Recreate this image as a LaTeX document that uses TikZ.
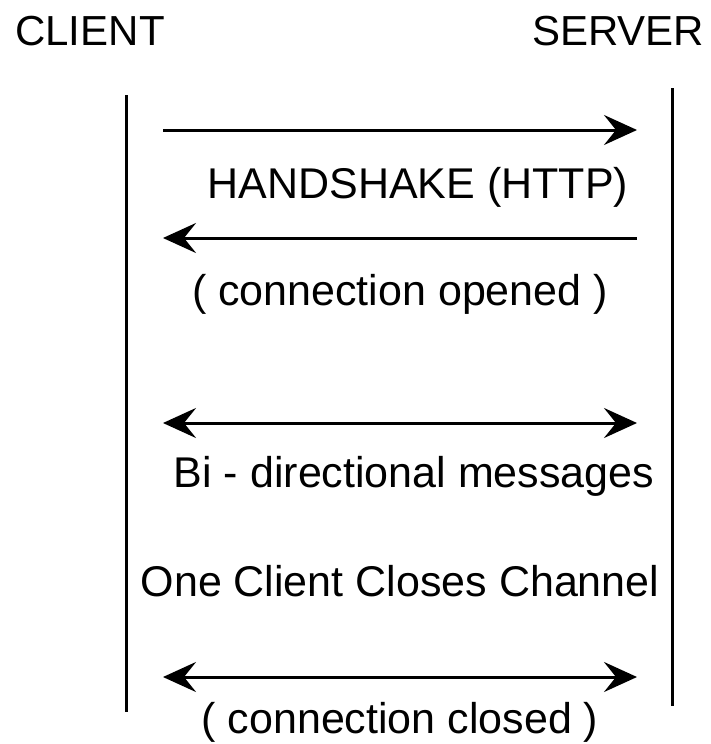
\documentclass[tikz,border=0pt]{standalone}
\usepackage{fontspec}
\setmainfont{Liberation Sans}
\usetikzlibrary{arrows.meta}
\begin{document}
\begin{tikzpicture}[x=1pt,y=-1pt,
  tip/.tip={Stealth[length=33pt,width=30pt,inset=12pt]},
  lifeline/.style={line width=3pt},
  msg/.style={line width=3pt,arrows={-tip}},
  bimsg/.style={line width=3pt,arrows={tip-tip}},
  lbl/.style={anchor=base,inner sep=0pt,font=\fontsize{43}{50}\selectfont},
  head/.style={anchor=base,inner sep=0pt,font=\fontsize{42}{50}\selectfont}]
\useasboundingbox (0,0) rectangle (710,744);
% participants
\node[head] (client) at (90,45) {CLIENT};
\node[head] (server) at (618,45) {SERVER};
% lifelines
\coordinate (ctop) at (126,95);
\coordinate (cbot) at (126,712);
\coordinate (stop) at (672,88);
\coordinate (sbot) at (672,706);
\draw[lifeline] (ctop) -- (cbot);
\draw[lifeline] (stop) -- (sbot);
% message end points
\coordinate (a1l) at (163,130); \coordinate (a1r) at (637,130);
\coordinate (a2l) at (163,238); \coordinate (a2r) at (637,238);
\coordinate (a3l) at (163,423); \coordinate (a3r) at (637,423);
\coordinate (a4l) at (163,677); \coordinate (a4r) at (637,677);
\draw[msg] (a1l) -- (a1r);
\draw[msg] (a2r) -- (a2l);
\draw[bimsg] (a3l) -- (a3r);
\draw[bimsg] (a4l) -- (a4r);
% labels
\node[lbl] (t1) at (418,198) {HANDSHAKE (HTTP)};
\node[lbl] (t2) at (400,305) {( connection opened )};
\node[lbl] (t3) at (414,487) {Bi - directional messages};
\node[lbl] (t4) at (400,596) {One Client Closes Channel};
\node[lbl] (t5) at (400,733) {( connection closed )};
\end{tikzpicture}
\end{document}
